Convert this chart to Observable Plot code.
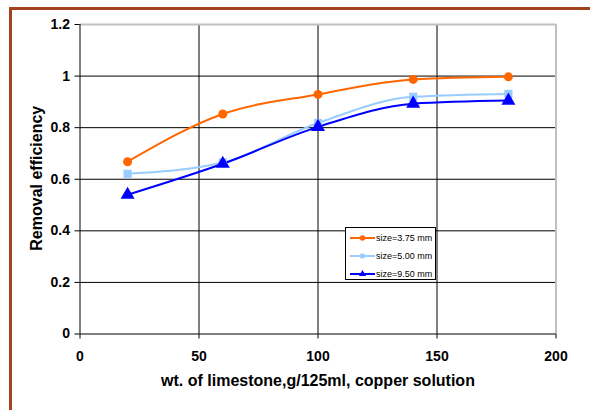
<!DOCTYPE html>
<html>
<head>
<meta charset="utf-8">
<script src="https://cdn.jsdelivr.net/npm/d3@7"></script>
<script src="https://cdn.jsdelivr.net/npm/@observablehq/plot@0.6"></script>
<style>
  html, body { margin: 0; padding: 0; background: #fff; overflow: hidden; }
  #wrap { position: relative; width: 590px; height: 410px; overflow: hidden; font-family: "Liberation Sans", Arial, sans-serif; }
  #frame { position: absolute; left: 9px; top: 7px; width: 620px; height: 440px; border: 3px solid #a3431d; box-sizing: border-box; }
  #chart { position: absolute; left: 0; top: 0; }
  #legend { position: absolute; left: 345px; top: 227px; width: 91px; height: 53px; border: 1px solid #000; background: #fff; box-sizing: border-box; }
  .row { position: absolute; left: 0; height: 14px; width: 90px; }
  .row svg { position: absolute; left: 3px; top: 0; }
  .row span { position: absolute; left: 30px; top: 1px; font-size: 9px; line-height: 12px; color: #000; white-space: nowrap; }
</style>
</head>
<body>
<div id="wrap">
  <div id="frame"></div>
  <div id="chart"></div>
  <div id="legend"></div>
</div>
<script>
const xVals = [20, 60, 100, 140, 180];
const seriesNames = ["size=3.75 mm", "size=5.00 mm", "size=9.50 mm"];
const s375 = [0.668, 0.853, 0.929, 0.987, 0.997];
const s500 = [0.621, 0.665, 0.818, 0.920, 0.931];
const s950 = [0.540, 0.660, 0.803, 0.893, 0.905];
const xTicks = [0, 50, 100, 150, 200];
const yTicks = [0, 0.2, 0.4, 0.6, 0.8, 1, 1.2];
const xLabel = "wt. of limestone,g/125ml, copper solution";
const yLabel = "Removal efficiency";
const colors = ["#ff6600", "#99ccff", "#0000ff"];
const symbols = ["circle", "square", "triangle"];
const radii = [4.5, 4.6, 5.2];

const allSeries = [s375, s500, s950];
const data = [];
allSeries.forEach((vals, si) => {
  vals.forEach((v, i) => data.push({series: seriesNames[si], x: xVals[i], y: v}));
});

const marks = [
  Plot.gridY(yTicks.slice(1, -1), {stroke: "#000", strokeOpacity: 1}),
  Plot.gridX(xTicks.slice(1, -1), {stroke: "#000", strokeOpacity: 1}),
  Plot.ruleY([1.2], {stroke: "#c0c0c0", strokeWidth: 2}),
  Plot.ruleX([200], {stroke: "#c0c0c0", strokeWidth: 2}),
  Plot.ruleX([0], {stroke: "#000"}),
  Plot.ruleY([0], {stroke: "#000"}),
  Plot.axisY({ticks: yTicks, tickSize: 5, tickPadding: 5, tickFormat: d => String(+d.toFixed(1)),
    label: null, fontSize: 14}),
  Plot.axisX({ticks: xTicks, tickSize: 5, tickPadding: 12, tickFormat: d => String(d),
    label: null, fontSize: 14}),
  Plot.text([yLabel], {text: d => d, frameAnchor: "left", textAnchor: "middle", dx: -43, dy: -1, rotate: -90, fontSize: 16, fontWeight: "bold", fill: "#000"}),
  Plot.text([xLabel], {text: d => d, frameAnchor: "bottom", textAnchor: "middle", dy: 52, fontSize: 16, fontWeight: "bold", fill: "#000"})
];
seriesNames.forEach((name, si) => {
  const d = data.filter(r => r.series === name);
  marks.push(Plot.line(d, {x: "x", y: "y", stroke: colors[si], strokeWidth: 2, curve: "monotone-x"}));
});
seriesNames.forEach((name, si) => {
  const d = data.filter(r => r.series === name);
  marks.push(Plot.dot(d, {x: "x", y: "y", fill: colors[si], stroke: "none", symbol: () => symbols[si], r: radii[si]}));
});

const chart = Plot.plot({
  width: 590,
  height: 410,
  marginLeft: 79.5,
  marginRight: 34.5,
  marginTop: 24,
  marginBottom: 76.5,
  x: {domain: [0, 200]},
  y: {domain: [0, 1.2]},
  style: {fontFamily: "'Liberation Sans', Arial, sans-serif", fontSize: "14px", fontWeight: "bold", color: "#000", background: "transparent"},
  marks
});
document.getElementById("chart").appendChild(chart);

// legend
const legend = document.getElementById("legend");
seriesNames.forEach((name, si) => {
  const row = document.createElement("div");
  row.className = "row";
  row.style.top = (3 + si * 18) + "px";
  const svg = d3.create("svg").attr("width", 27).attr("height", 14);
  svg.append("line").attr("x1", 1).attr("x2", 26).attr("y1", 7).attr("y2", 7)
    .attr("stroke", colors[si]).attr("stroke-width", 2);
  const sym = {circle: d3.symbolCircle, square: d3.symbolSquare, triangle: d3.symbolTriangle}[symbols[si]];
  svg.append("path").attr("d", d3.symbol(sym, 22)()).attr("transform", "translate(13.5,7)").attr("fill", colors[si]);
  row.appendChild(svg.node());
  const span = document.createElement("span");
  span.textContent = name;
  row.appendChild(span);
  legend.appendChild(row);
});
</script>
</body>
</html>
